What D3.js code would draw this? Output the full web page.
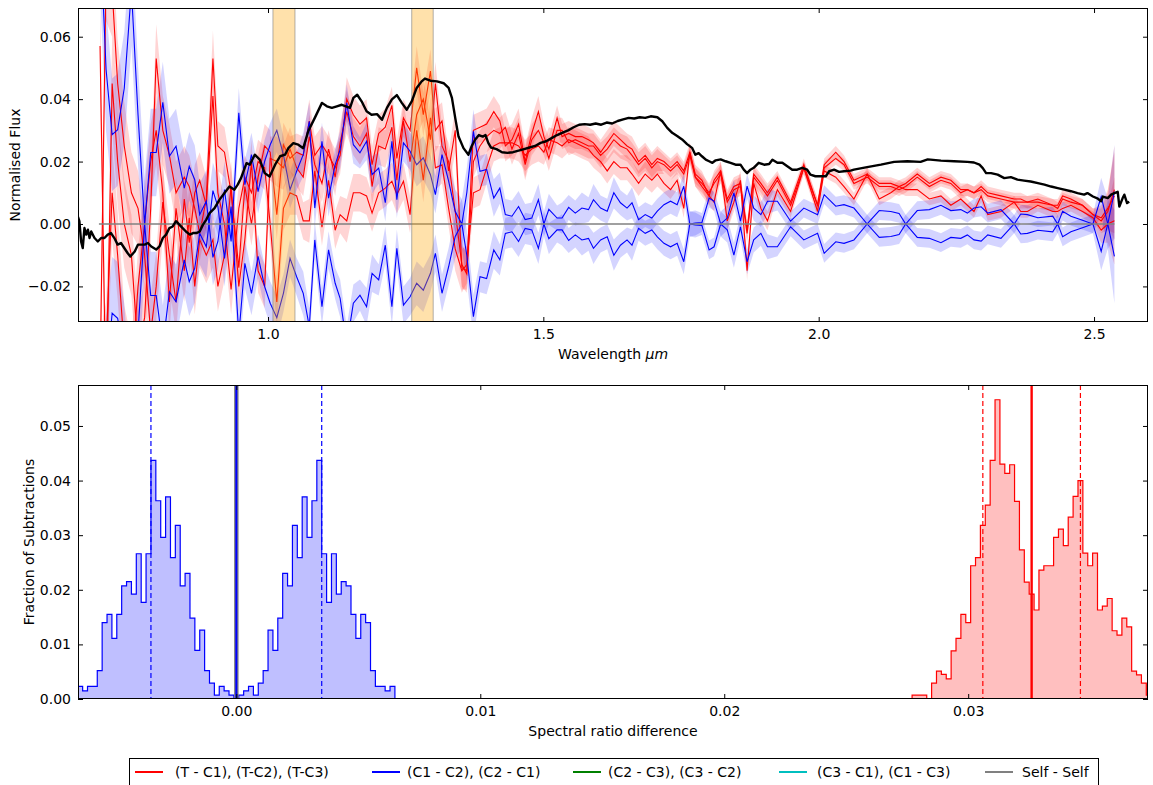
<!DOCTYPE html>
<html><head><meta charset="utf-8">
<script src="https://cdn.jsdelivr.net/npm/d3@7"></script>
<style>
body{margin:0;background:#fff}
svg{display:block}
text{font-family:"DejaVu Sans",sans-serif;fill:#000}
</style>
</head><body>
<svg id="chart" width="1153" height="785"></svg>
<script>
// ---------------- DATA ----------------
// wavelength grid (micron) for the difference spectra
const wl = [
0.695,0.706,0.717,0.727,0.739,0.752,0.764,0.776,0.787,0.797,
0.809,0.821,0.833,0.848,0.857,0.867,0.876,0.888,0.900,0.909,
0.921,0.933,0.947,0.958,0.970,0.982,0.994,
1.004,1.016,1.028,1.040,1.052,1.064,1.075,1.085,1.098,1.110,
1.122,1.131,1.143,1.155,1.167,1.179,1.189,1.201,1.213,1.225,
1.234,1.246,1.258,1.270,1.282,1.295,1.304,1.316,1.328,1.340,1.352,
1.361,1.373,1.385,1.397,1.410,1.421,1.431,1.443,1.455,1.467,
1.479,1.491,1.501,1.510,1.525,1.534,1.546,1.558,1.570,1.582,
1.591,1.604,1.616,1.628,1.640,1.652,1.661,1.673,1.685,1.697,
1.707,1.719,1.731,1.743,1.755,1.766,1.776,1.788,1.801,1.810,
1.822,1.834,1.846,1.858,1.870,1.882,1.895,1.907,1.925,1.949,
1.973,1.998,2.010,2.031,2.046,2.064,2.088,2.110,2.131,2.146,
2.158,2.179,2.201,2.222,2.240,2.258,2.270,2.282,2.295,2.307,
2.331,2.355,2.367,2.379,2.398,2.425,2.434,2.443,2.458,2.479,
2.498,2.513,2.525,2.537];

// (T - C1), (T-C2), (T-C3)
const diffTC1 = [
0.057,-0.060,0.045,0.020,0.000,-0.010,-0.040,-0.030,0.005,0.053,
0.030,0.022,0.010,0.015,0.012,0.005,-0.003,0.008,0.053,0.025,
0.023,0.010,-0.014,0.012,0.000,0.015,0.025,
0.023,0.003,0.0254,0.021,0.023,0.022,0.033,0.022,0.0254,0.022,
0.018,0.022,0.040,0.035,0.032,0.034,0.019,0.029,0.031,0.038,
0.021,0.034,0.030,0.050,0.035,0.049,0.030,0.033,0.017,0.030,-0.014,
-0.015,0.030,0.031,0.032,0.036,0.033,0.025,0.027,0.032,0.020,
0.029,0.036,0.028,0.024,0.034,0.028,0.029,0.028,0.028,0.027,
0.026,0.023,0.026,0.029,0.027,0.025,0.024,0.020,0.022,0.019,
0.021,0.020,0.018,0.020,0.017,0.023,0.016,0.014,0.009,0.014,
0.017,0.008,0.012,0.013,-0.002,0.016,0.013,0.010,0.015,0.007,
0.019,0.006,0.019,0.023,0.020,0.014,0.016,0.013,0.013,0.012,
0.013,0.016,0.013,0.015,0.014,0.011,0.011,0.010,0.012,0.010,
0.009,0.008,0.008,0.007,0.008,0.006,0.006,0.009,0.008,0.006,
0.003,0.001,0.004,0.011];
const diffTC2 = [
-0.050,0.080,0.075,0.045,0.025,0.010,0.005,-0.010,-0.035,-0.020,
0.007,-0.010,-0.025,0.008,-0.006,0.010,0.014,0.006,0.041,0.010,
0.000,-0.021,0.005,0.015,0.010,0.020,0.018,
0.000,-0.025,0.005,0.010,0.009,0.001,0.001,0.017,-0.001,0.014,
-0.002,0.003,0.001,0.010,0.010,0.009,0.0035,0.010,0.0115,0.0137,
0.0094,0.0137,0.003,0.030,0.014,0.034,0.018,0.019,0.005,-0.008,-0.015,
-0.013,0.010,0.011,0.018,0.025,0.026,0.026,0.026,0.025,0.022,
0.024,0.025,0.023,0.027,0.026,0.025,0.027,0.026,0.025,0.024,
0.022,0.020,0.017,0.020,0.018,0.018,0.016,0.013,0.016,0.014,
0.016,0.013,0.011,0.014,0.005,0.023,0.015,0.012,0.009,0.007,
0.017,0.001,0.007,0.014,-0.015,0.013,0.005,0.001,0.011,0.004,
0.018,0.004,0.017,0.015,0.012,0.008,0.016,0.008,0.010,0.012,
0.011,0.011,0.008,0.009,0.006,0.008,0.006,0.004,0.009,0.003,
0.004,0.007,0.004,0.004,0.006,0.004,0.004,0.005,0.006,0.004,
0.002,-0.002,0.000,0.001];
const diffTC3 = [
-0.050,-0.040,0.010,-0.010,-0.040,-0.050,-0.020,0.000,0.020,0.030,
0.010,-0.025,0.005,-0.015,0.002,-0.020,-0.005,-0.010,-0.005,-0.020,
-0.010,0.012,-0.020,-0.005,0.020,-0.015,-0.020,
0.021,0.020,0.018,0.024,0.018,0.015,0.028,0.019,0.013,0.024,
0.015,0.026,0.036,0.028,0.025,0.029,0.012,0.025,0.024,0.031,
0.014,0.033,0.020,0.035,0.040,0.027,0.045,0.025,0.020,0.004,-0.013,
-0.016,0.020,0.025,0.028,0.030,0.029,0.031,0.024,0.029,0.019,
0.027,0.030,0.026,0.021,0.030,0.030,0.026,0.027,0.026,0.025,
0.025,0.022,0.024,0.027,0.025,0.024,0.022,0.019,0.021,0.018,
0.020,0.019,0.017,0.019,0.016,0.022,0.015,0.013,0.010,0.013,
0.016,0.007,0.011,0.012,-0.003,0.015,0.012,0.009,0.014,0.006,
0.018,0.006,0.018,0.021,0.019,0.013,0.015,0.012,0.012,0.011,
0.012,0.015,0.012,0.014,0.013,0.010,0.011,0.010,0.011,0.009,
0.008,0.007,0.007,0.007,0.007,0.006,0.005,0.008,0.007,0.006,
0.003,0.002,0.005,0.009];
// (C1 - C2) and (C2 - C1)
const diffC1C2 = [
0.095,0.0495,0.0286,0.0302,0.0435,0.075,0.035,0.000,0.0229,0.0229,
0.0390,0.0217,0.0249,0.0115,0.0185,0.0142,0.0030,0.0073,-0.0107,-0.0056,
0.0110,-0.0056,0.0356,0.0126,0.0222,0.0104,0.0201,
0.0254,0.0300,0.0222,0.0110,0.0169,0.0222,0.0329,0.0051,0.0265,0.0083,
0.0190,0.0238,0.0388,0.0254,0.0228,0.0265,0.0158,0.0179,0.0068,0.0265,
0.0078,0.0260,0.0233,0.0190,0.0212,0.0158,0.0094,0.0222,0.0137,0.0040,0.0000,
0.0100,0.0297,0.0169,0.0175,0.0083,0.0115,0.0030,0.0025,0.0056,0.0014,
0.0019,0.0078,0.0000,0.0047,0.0019,0.0019,0.0053,0.0035,0.0051,0.0046,
0.0078,0.0051,0.0041,0.0100,0.0068,0.0051,0.0068,0.0014,0.0030,0.0019,
0.0041,0.0062,0.0073,0.0062,0.0121,0.0000,0.0003,0.0005,0.0083,0.0073,
0.0000,0.0019,0.0100,0.0009,0.0121,0.0051,0.0030,0.0073,0.0073,0.0009,
0.0051,0.0030,0.0094,0.0057,0.0062,0.0051,0.0000,0.0043,0.0040,0.0034,
0.0000,0.0043,0.0046,0.0060,0.0043,0.0046,0.0035,0.0051,0.0055,0.0035,
0.0046,0.0000,0.0032,0.0030,0.0020,0.0025,0.0000,0.0041,0.0025,0.0012,
0.0000,0.0088,0.0000,-0.0104];
const diffC2C1 = [
-0.095,-0.0495,-0.0286,-0.0302,-0.0435,-0.075,-0.035,0.000,-0.0229,-0.0229,
-0.0390,-0.0217,-0.0249,-0.0115,-0.0185,-0.0142,-0.0030,-0.0073,0.0107,0.0056,
-0.0110,0.0056,-0.0356,-0.0126,-0.0222,-0.0104,-0.0201,
-0.0254,-0.0300,-0.0222,-0.0110,-0.0169,-0.0222,-0.0329,-0.0051,-0.0265,-0.0083,
-0.0190,-0.0238,-0.0388,-0.0254,-0.0228,-0.0265,-0.0158,-0.0179,-0.0068,-0.0265,
-0.0078,-0.0260,-0.0233,-0.0190,-0.0212,-0.0158,-0.0094,-0.0222,-0.0137,-0.0040,0.0000,
-0.0100,-0.0297,-0.0169,-0.0175,-0.0083,-0.0115,-0.0030,-0.0025,-0.0056,-0.0014,
-0.0019,-0.0078,0.0000,-0.0047,-0.0019,-0.0019,-0.0053,-0.0035,-0.0051,-0.0046,
-0.0078,-0.0051,-0.0041,-0.0100,-0.0068,-0.0051,-0.0068,-0.0014,-0.0030,-0.0019,
-0.0041,-0.0062,-0.0073,-0.0062,-0.0121,0.0000,-0.0003,-0.0005,-0.0083,-0.0073,
0.0000,-0.0019,-0.0100,-0.0009,-0.0121,-0.0051,-0.0030,-0.0073,-0.0073,-0.0009,
-0.0051,-0.0030,-0.0094,-0.0057,-0.0062,-0.0051,0.0000,-0.0043,-0.0040,-0.0034,
0.0000,-0.0043,-0.0046,-0.0060,-0.0043,-0.0046,-0.0035,-0.0051,-0.0055,-0.0035,
-0.0046,0.0000,-0.0032,-0.0030,-0.0020,-0.0025,0.0000,-0.0041,-0.0025,-0.0012,
0.0000,-0.0088,0.0000,0.0104];
// 1-sigma half widths of the shaded bands
const errRed = [
0.015,0.015,0.015,0.014,0.014,0.013,0.012,0.012,0.012,0.011,
0.011,0.010,0.010,0.010,0.010,0.009,0.009,0.009,0.009,0.008,
0.008,0.008,0.008,0.007,0.007,0.007,0.007,
0.007,0.008,0.007,0.007,0.006,0.006,0.007,0.006,0.006,0.006,
0.006,0.006,0.007,0.006,0.006,0.006,0.006,0.006,0.006,0.006,
0.006,0.006,0.006,0.007,0.007,0.007,0.007,0.006,0.006,0.007,0.007,
0.006,0.005,0.005,0.005,0.005,0.005,0.005,0.005,0.005,0.005,
0.005,0.005,0.004,0.004,0.004,0.004,0.004,0.004,0.004,0.004,
0.004,0.004,0.004,0.004,0.004,0.004,0.004,0.004,0.004,0.004,
0.004,0.003,0.003,0.003,0.003,0.003,0.003,0.003,0.003,0.003,
0.003,0.003,0.003,0.003,0.003,0.003,0.003,0.003,0.002,0.002,
0.002,0.002,0.002,0.002,0.002,0.002,0.002,0.002,0.002,0.002,
0.002,0.002,0.002,0.002,0.002,0.002,0.002,0.002,0.002,0.002,
0.002,0.002,0.002,0.002,0.002,0.002,0.002,0.002,0.002,0.002,
0.002,0.004,0.006,0.014];
const errBlue = [
0.020,0.020,0.018,0.018,0.018,0.018,0.016,0.015,0.014,0.014,
0.013,0.012,0.012,0.011,0.011,0.011,0.010,0.010,0.009,0.009,
0.009,0.008,0.008,0.008,0.007,0.007,0.007,
0.007,0.007,0.006,0.006,0.006,0.007,0.006,0.006,0.006,0.006,
0.005,0.006,0.006,0.006,0.005,0.006,0.006,0.005,0.006,0.006,
0.006,0.006,0.006,0.007,0.007,0.006,0.006,0.006,0.006,0.007,0.008,
0.008,0.007,0.005,0.005,0.006,0.005,0.005,0.005,0.005,0.005,
0.005,0.005,0.004,0.005,0.004,0.005,0.004,0.004,0.005,0.004,
0.005,0.004,0.004,0.005,0.004,0.004,0.005,0.004,0.004,0.004,
0.004,0.004,0.004,0.004,0.004,0.004,0.004,0.003,0.003,0.003,
0.004,0.004,0.004,0.004,0.004,0.004,0.004,0.004,0.003,0.003,
0.003,0.003,0.003,0.003,0.003,0.003,0.003,0.003,0.003,0.003,
0.003,0.003,0.003,0.003,0.003,0.003,0.003,0.003,0.003,0.003,
0.003,0.003,0.003,0.003,0.003,0.003,0.003,0.003,0.003,0.003,
0.003,0.006,0.008,0.015];

// target spectrum (black)
const specWl = [
0.6545,0.6575,0.6606,0.6636,0.6667,0.670,0.673,0.676,0.679,0.685,
0.691,0.697,0.703,0.709,0.715,0.721,0.727,0.733,0.739,0.745,
0.750,0.758,0.764,0.776,0.782,0.788,0.797,0.803,0.809,0.815,
0.821,0.827,0.833,0.839,0.845,0.851,0.858,0.864,0.870,0.876,
0.882,0.888,0.894,0.903,0.912,0.921,0.930,0.939,0.945,0.951,
0.961,0.967,0.976,0.985,0.994,1.003,1.013,1.022,1.031,1.037,
1.046,1.055,1.064,1.073,1.085,1.098,1.107,1.116,1.125,1.134,
1.149,1.155,1.162,1.170,1.179,1.188,1.198,1.207,1.216,1.225,
1.234,1.243,1.252,1.261,1.270,1.279,1.285,1.295,1.307,1.319,
1.328,1.334,1.340,1.346,1.355,1.364,1.370,1.376,1.383,1.390,
1.395,1.400,1.405,1.415,1.425,1.435,1.445,1.455,1.465,1.475,
1.485,1.495,1.505,1.515,1.525,1.535,1.545,1.555,1.565,1.575,
1.585,1.595,1.605,1.615,1.625,1.635,1.645,1.655,1.665,1.675,
1.685,1.695,1.707,1.716,1.725,1.734,1.743,1.752,1.761,1.770,
1.776,1.782,1.788,1.795,1.801,1.807,1.813,1.822,1.831,1.840,
1.849,1.858,1.864,1.870,1.876,1.882,1.891,1.901,1.910,1.916,
1.925,1.934,1.943,1.952,1.961,1.970,1.979,1.985,1.994,2.004,
2.013,2.019,2.028,2.037,2.046,2.058,2.064,2.088,2.113,2.137,
2.161,2.185,2.198,2.222,2.246,2.270,2.282,2.292,2.298,2.304,
2.313,2.325,2.337,2.349,2.361,2.373,2.385,2.398,2.410,2.422,
2.434,2.446,2.458,2.470,2.482,2.488,2.498,2.507,2.513,2.516,
2.525,2.531,2.537,2.543,2.546,2.552,2.555,2.560,2.564];
const specFlux = [
0.0025,0.0009,-0.0056,-0.0077,-0.0013,-0.0034,-0.0018,-0.0045,-0.0024,-0.0045,
-0.0056,-0.0045,-0.0045,-0.0034,-0.0029,-0.0045,-0.0066,-0.0061,-0.0077,-0.0093,
-0.0104,-0.0088,-0.0066,-0.0066,-0.0061,-0.0072,-0.0082,-0.0072,-0.0045,-0.0034,
-0.0013,-0.0008,0.0009,-0.0002,-0.0013,-0.0024,-0.0034,-0.0029,-0.0029,-0.0024,
-0.0002,0.0014,0.0035,0.0051,0.0078,0.0099,0.0120,0.0110,0.0126,0.0147,
0.0195,0.0190,0.0222,0.0206,0.0163,0.0152,0.0190,0.0217,0.0222,0.0243,
0.0259,0.0254,0.0243,0.0297,0.0340,0.0388,0.0377,0.0372,0.0377,0.0382,
0.0372,0.0404,0.0414,0.0393,0.0361,0.0350,0.0352,0.0334,0.0372,0.0399,
0.0413,0.0388,0.0366,0.0393,0.0436,0.0457,0.0466,0.0459,0.0457,0.0451,
0.0436,0.0404,0.0340,0.0280,0.0243,0.0222,0.0250,0.0270,0.0285,0.0280,
0.0285,0.0260,0.0245,0.0240,0.0230,0.0228,0.0230,0.0235,0.0240,0.0245,
0.0250,0.0260,0.0265,0.0275,0.0285,0.0293,0.0300,0.0310,0.0318,0.0320,
0.0318,0.0322,0.0318,0.0325,0.0322,0.0330,0.0335,0.0340,0.0338,0.0342,
0.0340,0.0345,0.0342,0.0329,0.0308,0.0292,0.0282,0.0271,0.0256,0.0244,
0.0222,0.0227,0.0217,0.0206,0.0201,0.0196,0.0204,0.0207,0.0201,0.0196,
0.0190,0.0190,0.0174,0.0163,0.0174,0.0180,0.0196,0.0190,0.0192,0.0206,
0.0196,0.0196,0.0185,0.0174,0.0174,0.0180,0.0174,0.0158,0.0153,0.0153,
0.0153,0.0169,0.0174,0.0167,0.0169,0.0171,0.0174,0.0182,0.0190,0.0199,
0.0201,0.0199,0.0207,0.0203,0.0201,0.0199,0.0197,0.0190,0.0179,0.0163,
0.0163,0.0158,0.0147,0.0150,0.0142,0.0139,0.0136,0.0131,0.0126,0.0120,
0.0115,0.0110,0.0105,0.0099,0.0094,0.0099,0.0088,0.0081,0.0073,0.0088,
0.0083,0.0094,0.0099,0.0103,0.0056,0.0083,0.0094,0.0067,0.0071];

// highlighted wavelength windows
const bandStart = [1.009, 1.261];
const bandEnd   = [1.049, 1.300];
const zeroLineRange = [0.693, 2.537];

// histogram of spectral ratio differences
const binWidth = 0.0002;
const histC2C1Start = -0.0065;
const histC2C1 = [0.0023,0.0015,0.0023,0.0023,0.0052,0.0140,0.0155,0.0111,0.0155,0.0207,
0.0215,0.0192,0.0266,0.0177,0.0266,0.0437,0.0363,0.0296,0.0370,0.0259,
0.0318,0.0207,0.0230,0.0148,0.0089,0.0126,0.0052,0.0029,0.0007,0.0023,0.0015,0.0007];
const histC1C2Start = 0.0001;
const histC1C2 = [0.0007,0.0015,0.0023,0.0007,0.0029,0.0052,0.0126,0.0089,0.0148,0.0230,
0.0207,0.0318,0.0259,0.0370,0.0296,0.0363,0.0437,0.0266,0.0177,0.0266,
0.0192,0.0215,0.0207,0.0155,0.0111,0.0155,0.0140,0.0052,0.0023,0.0023,0.0015,0.0023];
const histTStart = 0.0277;
const histT = [0.0007,0.0007,0.0007,0.0000,0.0029,0.0051,0.0045,0.0037,0.0088,0.0111,
0.0155,0.0140,0.0244,0.0259,0.0318,0.0355,0.0437,0.0548,0.0430,0.0413,
0.0429,0.0362,0.0273,0.0214,0.0192,0.0163,0.0236,0.0244,0.0244,0.0296,
0.0311,0.0281,0.0333,0.0371,0.0400,0.0267,0.0244,0.0267,0.0163,0.0170,
0.0184,0.0125,0.0117,0.0148,0.0132,0.0051,0.0044,0.0029,0.0007];
const blueDashed = [-0.0035, 0.0035];
const redMean = 0.0326;
const redDashed = [0.0306, 0.0346];
const selfLine = 0.0;

// ticks
const topXTicks = [1.0, 1.5, 2.0, 2.5];
const topYTicks = [-0.02, 0.00, 0.02, 0.04, 0.06];
const botXTicks = [0.00, 0.01, 0.02, 0.03];
const botYTicks = [0.00, 0.01, 0.02, 0.03, 0.04, 0.05];

const legendLabels = ["(T - C1), (T-C2), (T-C3)", "(C1 - C2), (C2 - C1)", "(C2 - C3), (C3 - C2)", "(C3 - C1), (C1 - C3)", "Self - Self"];
const legendColors = ["#ff0000", "#0000ff", "#008000", "#00bfbf", "#808080"];

// ---------------- DRAWING ----------------
const svg = d3.select("#chart");
const FS = 14;
const L = 78, R = 1148;
const T1 = 8, B1 = 322, T2 = 385, B2 = 699;

const x1 = d3.scaleLinear().domain([0.655, 2.598]).range([L, R]);
const y1 = d3.scaleLinear().domain([-0.0314, 0.0692]).range([B1, T1]);
const x2 = d3.scaleLinear().domain([-0.00649, 0.03737]).range([L, R]);
const y2 = d3.scaleLinear().domain([0, 0.0575]).range([B2, T2]);

const defs = svg.append("defs");
defs.append("clipPath").attr("id", "c1").append("rect").attr("x", L).attr("y", T1).attr("width", R - L).attr("height", B1 - T1);
defs.append("clipPath").attr("id", "c2").append("rect").attr("x", L).attr("y", T2).attr("width", R - L).attr("height", B2 - T2);

// ---- top panel
const g1 = svg.append("g").attr("clip-path", "url(#c1)");
const idx = d3.range(wl.length);
const area = (vals, err) => d3.area().x(i => x1(wl[i])).y0(i => y1(vals[i] - err[i])).y1(i => y1(vals[i] + err[i]))(idx);
const line = (vals) => d3.line().x(i => x1(wl[i])).y(i => y1(vals[i]))(idx);

[diffTC1, diffTC2, diffTC3].forEach(v => g1.append("path").attr("d", area(v, errRed)).attr("fill", "#ff0000").attr("fill-opacity", 0.17).attr("stroke", "none"));
[diffC1C2, diffC2C1].forEach(v => g1.append("path").attr("d", area(v, errBlue)).attr("fill", "#0000ff").attr("fill-opacity", 0.17).attr("stroke", "none"));
[diffTC1, diffTC2, diffTC3].forEach(v => g1.append("path").attr("d", line(v)).attr("fill", "none").attr("stroke", "#ff0000").attr("stroke-width", 1.1));
[diffC1C2, diffC2C1].forEach(v => g1.append("path").attr("d", line(v)).attr("fill", "none").attr("stroke", "#0000ff").attr("stroke-width", 1.1));

g1.append("line").attr("x1", x1(zeroLineRange[0])).attr("x2", x1(zeroLineRange[1]))
  .attr("y1", y1(0)).attr("y2", y1(0)).attr("stroke", "#808080").attr("stroke-width", 1.3);

bandStart.forEach((s, i) => {
  g1.append("rect").attr("x", x1(s)).attr("y", T1).attr("width", x1(bandEnd[i]) - x1(s)).attr("height", B1 - T1)
    .attr("fill", "#ffa500").attr("fill-opacity", 0.33).attr("stroke", "#7f7f7f").attr("stroke-opacity", 0.6).attr("stroke-width", 1);
});

g1.append("path").attr("d", d3.line().x((d, i) => x1(specWl[i])).y(d => y1(d))(specFlux))
  .attr("fill", "none").attr("stroke", "#000").attr("stroke-width", 2.4).attr("stroke-linejoin", "round");

// ---- bottom panel
const g2 = svg.append("g").attr("clip-path", "url(#c2)");
function stepPts(start, vals) {
  const pts = [[start, 0]];
  vals.forEach((v, i) => { pts.push([start + i * binWidth, v]); pts.push([start + (i + 1) * binWidth, v]); });
  pts.push([start + vals.length * binWidth, 0]);
  return pts;
}
const stepLine = d3.line().x(d => x2(d[0])).y(d => y2(d[1]));
const hists = [[histC2C1Start, histC2C1, "#0000ff"], [histC1C2Start, histC1C2, "#0000ff"], [histTStart, histT, "#ff0000"]];
hists.forEach(([s, v, c]) => g2.append("path").attr("d", stepLine(stepPts(s, v)) + "Z").attr("fill", c).attr("fill-opacity", 0.25).attr("stroke", "none"));
hists.forEach(([s, v, c]) => g2.append("path").attr("d", stepLine(stepPts(s, v))).attr("fill", "none").attr("stroke", c).attr("stroke-width", 1.2));

const vline = (xv, color, w, dash) => {
  const l = g2.append("line").attr("x1", x2(xv)).attr("x2", x2(xv)).attr("y1", T2).attr("y2", B2)
    .attr("stroke", color).attr("stroke-width", w);
  if (dash) l.attr("stroke-dasharray", dash);
};
blueDashed.forEach(v => vline(v, "#0000ff", 1.2, "5,3"));
redDashed.forEach(v => vline(v, "#ff0000", 1.2, "5,3"));
vline(redMean, "#ff0000", 2.4);
vline(selfLine, "#808080", 4.5);
vline(selfLine, "#0000ff", 2);

// ---- axes
function axes(x, y, top, bottom, xt, yt, xf, yf) {
  const gx = svg.append("g").attr("transform", `translate(0,${bottom})`)
    .call(d3.axisBottom(x).tickValues(xt).tickSize(-5).tickPadding(7).tickFormat(d3.format(xf)));
  const gxt = svg.append("g").attr("transform", `translate(0,${top})`)
    .call(d3.axisTop(x).tickValues(xt).tickSize(-5).tickFormat(""));
  const gy = svg.append("g").attr("transform", `translate(${L},0)`)
    .call(d3.axisLeft(y).tickValues(yt).tickSize(-5).tickPadding(7).tickFormat(d3.format(yf)));
  const gyr = svg.append("g").attr("transform", `translate(${R},0)`)
    .call(d3.axisRight(y).tickValues(yt).tickSize(-5).tickFormat(""));
  [gx, gxt, gy, gyr].forEach(g => {
    g.select(".domain").remove();
    g.attr("font-size", FS).attr("font-family", "DejaVu Sans");
    g.selectAll("line").attr("stroke", "#000");
    g.selectAll("text").attr("fill", "#000");
  });
  svg.append("rect").attr("x", L + 0.5).attr("y", top + 0.5).attr("width", R - L - 1).attr("height", bottom - top - 1)
    .attr("fill", "none").attr("stroke", "#000").attr("stroke-width", 1);
}
axes(x1, y1, T1, B1, topXTicks, topYTicks, ".1f", ".2f");
axes(x2, y2, T2, B2, botXTicks, botYTicks, ".2f", ".2f");

// axis labels
const xl1 = svg.append("text").attr("x", 613).attr("y", 359).attr("text-anchor", "middle").attr("font-size", FS);
xl1.append("tspan").text("Wavelength ");
xl1.append("tspan").attr("font-style", "italic").text("μm");
svg.append("text").attr("transform", "translate(20,165) rotate(-90)").attr("text-anchor", "middle").attr("font-size", FS).text("Normalised Flux");
svg.append("text").attr("x", 613).attr("y", 736).attr("text-anchor", "middle").attr("font-size", FS).text("Spectral ratio difference");
svg.append("text").attr("transform", "translate(34,542) rotate(-90)").attr("text-anchor", "middle").attr("font-size", FS).text("Fraction of Subtractions");

// legend
const lg = svg.append("g");
lg.append("rect").attr("x", 129.5).attr("y", 758.5).attr("width", 969).attr("height", 40).attr("fill", "#fff").attr("stroke", "#000").attr("stroke-width", 1);
const lineX = [135, 372, 573, 779, 985];
const textX = [175, 407, 608, 817, 1022];
legendLabels.forEach((t, i) => {
  lg.append("line").attr("x1", lineX[i]).attr("x2", lineX[i] + 28).attr("y1", 772).attr("y2", 772).attr("stroke", legendColors[i]).attr("stroke-width", 2);
  lg.append("text").attr("x", textX[i]).attr("y", 777).attr("font-size", 14).text(t);
});
</script>
</body></html>
